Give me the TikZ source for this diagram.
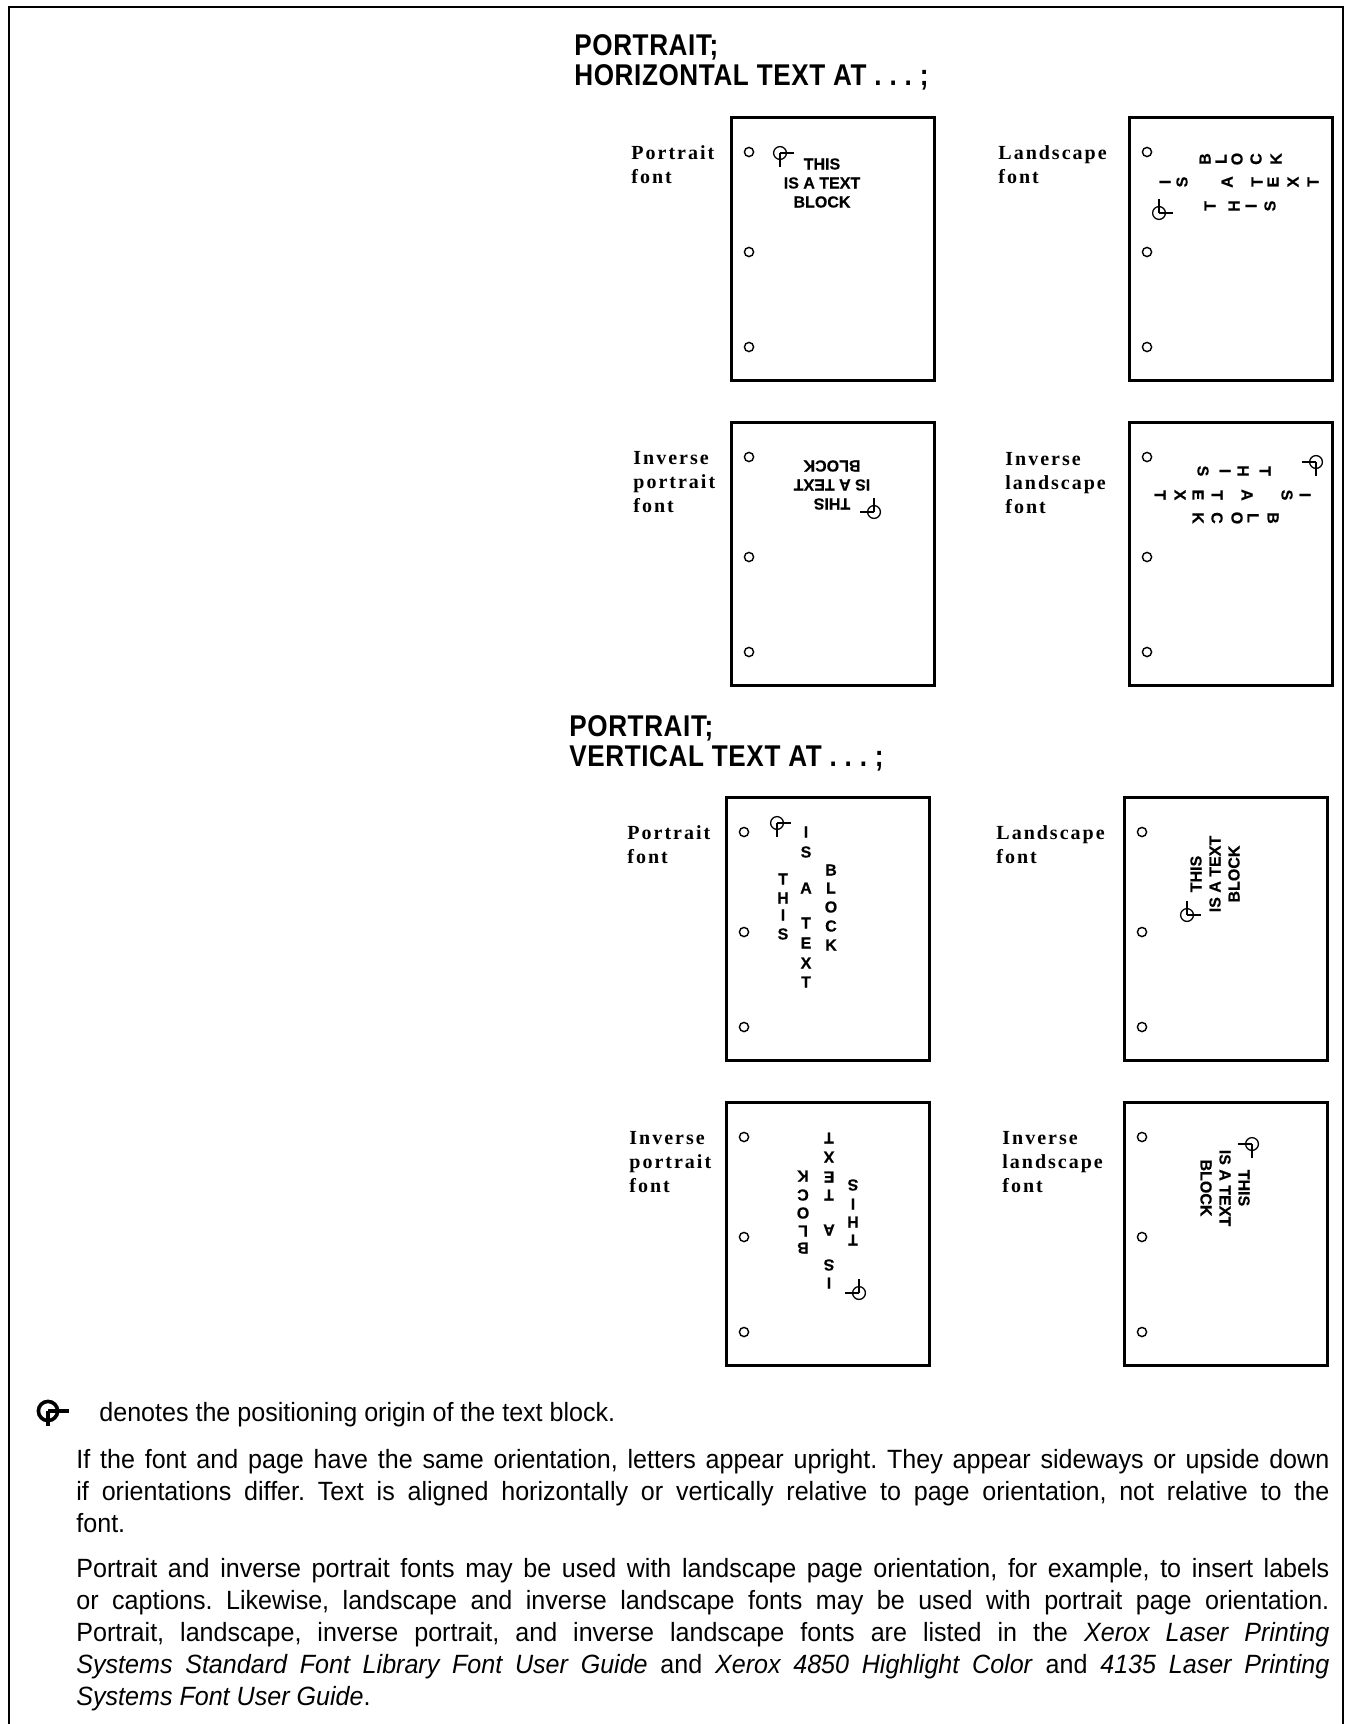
\documentclass[tikz,border=0pt]{standalone}
\usepackage{fontspec}
\setmainfont{Liberation Sans}
\newfontfamily\bodyfont[FakeStretch=0.95]{Liberation Sans}
\newfontfamily\titlefont[FakeStretch=0.87,LetterSpace=2]{Liberation Sans}
\newfontfamily\lblfont[LetterSpace=10]{Liberation Serif}
\newfontfamily\boxfont[FakeBold=0.4]{Liberation Sans}
\newcommand\lblbox[1]{\parbox[t]{90pt}{\raggedright #1}}
\frenchspacing
\begin{document}
\begin{tikzpicture}[x=0.5pt,y=-0.5pt,
  pagebox/.style={draw, line width=1.5pt, minimum width=101.5pt, minimum height=131.5pt, inner sep=0pt, anchor=north west},
  hole/.style={circle, draw, line width=0.7pt, minimum size=4.6pt, inner sep=0pt},
  letter/.style={font=\boxfont\bfseries\fontsize{8pt}{9.5pt}\selectfont, inner sep=0pt},
  tblock/.style={font=\boxfont\bfseries\fontsize{8pt}{9.5pt}\selectfont, align=center, inner sep=0pt},
  lbl/.style={font=\lblfont\bfseries\fontsize{10pt}{12pt}\selectfont, anchor=base west, inner sep=0pt},
  ttl/.style={font=\titlefont\bfseries\fontsize{15pt}{15pt}\selectfont, anchor=base west, inner sep=0pt},
  body/.style={font=\bodyfont\fontsize{13.2pt}{16pt}\selectfont, anchor=base west, inner sep=0pt},
  orgmark/.pic={\draw[line width=0.65pt] (0pt,0pt) circle[radius=3.2pt];
                \draw[line width=0.65pt] (0pt,0pt)--(7pt,0pt) (0pt,0pt)--(0pt,-7pt);},
  bigmark/.pic={\draw[line width=1.8pt] (0pt,0pt) circle[radius=4.8pt];
                \draw[line width=1.8pt] (0pt,0pt)--(10.5pt,0pt) (0pt,0pt)--(0pt,-7.5pt);}
]
\useasboundingbox (0,0) rectangle (1346,1724);
% frame (open at the bottom)
\coordinate (fbl) at (9,1724);
\coordinate (ftl) at (9,7);
\coordinate (ftr) at (1343,7);
\coordinate (fbr) at (1343,1724);
\draw[line width=1pt] (fbl) -- (ftl) -- (ftr) -- (fbr);

% titles
\node[ttl] (t1) at (574,55) {\lblbox{PORTRAIT;\\[0pt]\mbox{HORIZONTAL TEXT AT .\ .\ .\ ;}}};
\node[ttl] (t2) at (569,736) {\lblbox{PORTRAIT;\\[0pt]\mbox{VERTICAL TEXT AT .\ .\ .\ ;}}};

% page boxes and holes
\foreach \b/\X/\Y in {b1/730/116,b2/1128/116,b3/730/421,b4/1128/421,b5/725/796,b6/1123/796,b7/725/1101,b8/1123/1101}{
  \node[pagebox] (\b) at (\X,\Y) {};
  \foreach \dy [count=\k] in {36,136,231}
    \node[hole] (\b h\k) at (\X+19,\Y+\dy) {};
}

% labels
\node[lbl] (l1) at (631,159) {\lblbox{Portrait\\font}};
\node[lbl] (l2) at (998,159) {\lblbox{Landscape\\font}};
\node[lbl] (l3) at (633,464) {\lblbox{Inverse\\portrait\\font}};
\node[lbl] (l4) at (1005,465) {\lblbox{Inverse\\landscape\\font}};
\node[lbl] (l5) at (627,839) {\lblbox{Portrait\\font}};
\node[lbl] (l6) at (996,839) {\lblbox{Landscape\\font}};
\node[lbl] (l7) at (629,1144) {\lblbox{Inverse\\portrait\\font}};
\node[lbl] (l8) at (1002,1144) {\lblbox{Inverse\\landscape\\font}};

% origin marks
\pic (o1) at (780,153) {orgmark};
\pic[rotate=90] (o2) at (1159,213) {orgmark};
\pic[rotate=180] (o3) at (874,512) {orgmark};
\pic[rotate=270] (o4) at (1316,462) {orgmark};
\pic (o5) at (777,823) {orgmark};
\pic[rotate=90] (o6) at (1187,915) {orgmark};
\pic[rotate=180] (o7) at (859,1293) {orgmark};
\pic[rotate=270] (o8) at (1252,1144) {orgmark};

% text blocks set as whole lines
\node[tblock] (x1) at (822,183) {THIS\\IS A TEXT\\BLOCK};
\node[tblock, rotate=180] (x3) at (832,485) {THIS\\IS A TEXT\\BLOCK};
\node[tblock, rotate=90] (x6) at (1215,874) {THIS\\IS A TEXT\\BLOCK};
\node[tblock, rotate=-90] (x8) at (1225,1188) {THIS\\IS A TEXT\\BLOCK};

% box 2: landscape font, horizontal text
\foreach \x/\c [count=\i] in {1205/B,1221/L,1237/O,1256/C,1276/K}
  \node[letter,rotate=90] (b2a\i) at (\x,159) {\c};
\foreach \x/\c [count=\i] in {1165/I,1182/S,1227/A,1257/T,1273/E,1293/X,1313/T}
  \node[letter,rotate=90] (b2b\i) at (\x,182) {\c};
\foreach \x/\c [count=\i] in {1210/T,1234/H,1251/I,1270/S}
  \node[letter,rotate=90] (b2c\i) at (\x,206) {\c};

% box 4: inverse landscape font, horizontal text
\foreach \x/\c [count=\i] in {1203/S,1225/I,1243/H,1265/T}
  \node[letter,rotate=-90] (b4a\i) at (\x,471) {\c};
\foreach \x/\c [count=\i] in {1160/T,1180/X,1198/E,1217/T,1247/A,1287/S,1305/I}
  \node[letter,rotate=-90] (b4b\i) at (\x,495) {\c};
\foreach \x/\c [count=\i] in {1198/K,1217/C,1237/O,1253/L,1273/B}
  \node[letter,rotate=-90] (b4c\i) at (\x,518) {\c};

% box 5: portrait font, vertical text
\foreach \y/\c [count=\i] in {879/T,898/H,915/I,934/S}
  \node[letter] (b5a\i) at (783,\y) {\c};
\foreach \y/\c [count=\i] in {832/I,852/S,888/A,923/T,943/E,963/X,982/T}
  \node[letter] (b5b\i) at (806,\y) {\c};
\foreach \y/\c [count=\i] in {870/B,888/L,907/O,926/C,945/K}
  \node[letter] (b5c\i) at (831,\y) {\c};

% box 7: inverse portrait font, vertical text
\foreach \y/\c [count=\i] in {1176/K,1195/C,1213/O,1231/L,1248/B}
  \node[letter,rotate=180] (b7a\i) at (803,\y) {\c};
\foreach \y/\c [count=\i] in {1138/T,1157/X,1177/E,1195/T,1230/A,1265/S,1283/I}
  \node[letter,rotate=180] (b7b\i) at (829,\y) {\c};
\foreach \y/\c [count=\i] in {1185/S,1204/I,1222/H,1240/T}
  \node[letter,rotate=180] (b7c\i) at (853,\y) {\c};

% footnote
\pic (om) at (48,1411) {bigmark};
\node[body] (fn) at (99,1421) {denotes the positioning origin of the text block.};
\node[body] (p1) at (76,1468) {\parbox[t]{626.5pt}{%
\hbox to\linewidth{If the font and page have the same orientation, letters appear upright. They appear sideways or upside down}
\hbox to\linewidth{if orientations differ. Text is aligned horizontally or vertically relative to page orientation, not relative to the}
\hbox{font.}}};
\node[body] (p2) at (76,1577) {\parbox[t]{626.5pt}{%
\hbox to\linewidth{Portrait and inverse portrait fonts may be used with landscape page orientation, for example, to insert labels}
\hbox to\linewidth{or captions. Likewise, landscape and inverse landscape fonts may be used with portrait page orientation.}
\hbox to\linewidth{Portrait, landscape, inverse portrait, and inverse landscape fonts are listed in the \textit{Xerox Laser Printing}}
\hbox to\linewidth{\textit{Systems Standard Font Library Font User Guide} and \textit{Xerox 4850 Highlight Color} and \textit{4135 Laser Printing}}
\hbox{\textit{Systems Font User Guide}.}}};
\end{tikzpicture}
\end{document}
